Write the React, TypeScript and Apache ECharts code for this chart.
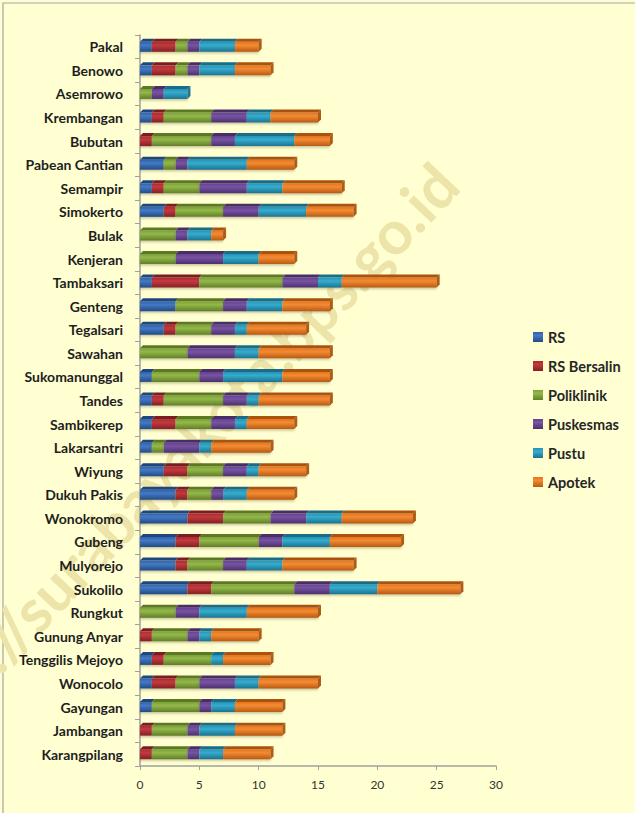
import React, { useEffect, useRef } from "react";
import * as echarts from "echarts";

const categories = [
  "Pakal", "Benowo", "Asemrowo", "Krembangan", "Bubutan", "Pabean Cantian",
  "Semampir", "Simokerto", "Bulak", "Kenjeran", "Tambaksari", "Genteng",
  "Tegalsari", "Sawahan", "Sukomanunggal", "Tandes", "Sambikerep", "Lakarsantri",
  "Wiyung", "Dukuh Pakis", "Wonokromo", "Gubeng", "Mulyorejo", "Sukolilo",
  "Rungkut", "Gunung Anyar", "Tenggilis Mejoyo", "Wonocolo", "Gayungan",
  "Jambangan", "Karangpilang",
];

const rs = [1, 1, 0, 1, 0, 2, 1, 2, 0, 0, 1, 3, 2, 0, 1, 1, 1, 1, 2, 3, 4, 3, 3, 4, 0, 0, 1, 1, 1, 0, 0];
const rsBersalin = [2, 2, 0, 1, 1, 0, 1, 1, 0, 0, 4, 0, 1, 0, 0, 1, 2, 0, 2, 1, 3, 2, 1, 2, 0, 1, 1, 2, 0, 1, 1];
const poliklinik = [1, 1, 1, 4, 5, 1, 3, 4, 3, 3, 7, 4, 3, 4, 4, 5, 3, 1, 3, 2, 4, 5, 3, 7, 3, 3, 4, 2, 4, 3, 3];
const puskesmas = [1, 1, 1, 3, 2, 1, 4, 3, 1, 4, 3, 2, 2, 4, 2, 2, 2, 3, 2, 1, 3, 2, 2, 3, 2, 1, 0, 3, 1, 1, 1];
const pustu = [3, 3, 2, 2, 5, 5, 3, 4, 2, 3, 2, 3, 1, 2, 5, 1, 1, 1, 1, 2, 3, 4, 3, 4, 4, 1, 1, 2, 2, 3, 2];
const apotek = [2, 3, 0, 4, 3, 4, 5, 4, 1, 3, 8, 4, 5, 6, 4, 6, 4, 5, 4, 4, 6, 6, 6, 7, 6, 4, 4, 5, 4, 4, 4];

const seriesNames = ["RS", "RS Bersalin", "Poliklinik", "Puskesmas", "Pustu", "Apotek"];
const seriesData = [rs, rsBersalin, poliklinik, puskesmas, pustu, apotek];
const xTicks = { min: 0, max: 30, interval: 5 };

// [light, base, dark, top-face]
const palette = [
  ["#4579C4", "#2E63A8", "#214C86", "#1F477E"],
  ["#C23A3F", "#AA2A2F", "#842024", "#7A1D21"],
  ["#93B84A", "#7DA135", "#617F27", "#5C7825"],
  ["#7853A4", "#63428D", "#4B316D", "#472E67"],
  ["#36ACCE", "#2593B6", "#1B7390", "#1A6C87"],
  ["#F38B33", "#E5751E", "#B95A12", "#A9530F"],
];

const FONT = "Lato, 'Open Sans', 'Liberation Sans', sans-serif";
const BAR_W = 10;
const DEPTH = 3;

export default function App() {
  const ref = useRef<HTMLDivElement>(null);

  useEffect(() => {
    if (!ref.current) return;
    const chart = echarts.init(ref.current, null, { renderer: "svg" });

    const barSeries = seriesNames.map((name, i) => ({
      name,
      type: "bar",
      stack: "total",
      barWidth: BAR_W,
      data: seriesData[i],
      z: 2,
      itemStyle: {
        color: new echarts.graphic.LinearGradient(0, 0, 0, 1, [
          { offset: 0, color: palette[i][1] },
          { offset: 0.35, color: palette[i][0] },
          { offset: 1, color: palette[i][2] },
        ]),
        shadowColor: "rgba(90,80,40,0.35)",
        shadowBlur: 2,
        shadowOffsetY: 1.5,
      },
      emphasis: { disabled: true },
    }));

    const depthData = categories.map((_, idx) => [idx, ...seriesData.map((s) => s[idx])]);

    const depthSeries = {
      type: "custom",
      silent: true,
      z: 3,
      encode: { y: 0, x: 1 },
      data: depthData,
      renderItem: (params: any, api: any) => {
        const idx = api.value(0);
        const children: any[] = [];
        let cum = 0;
        const center = api.coord([0, idx]);
        const yTop = center[1] - BAR_W / 2;
        const yBot = center[1] + BAR_W / 2;
        let lastColor = palette[5][3];
        for (let k = 0; k < 6; k++) {
          const v = api.value(k + 1);
          if (!v) continue;
          const x0 = api.coord([cum, idx])[0];
          const x1 = api.coord([cum + v, idx])[0];
          cum += v;
          lastColor = palette[k][3];
          children.push({
            type: "polygon",
            shape: {
              points: [
                [x0, yTop],
                [x1, yTop],
                [x1 + DEPTH, yTop - DEPTH],
                [x0 + DEPTH, yTop - DEPTH],
              ],
            },
            style: { fill: palette[k][3] },
          });
        }
        const xe = api.coord([cum, idx])[0];
        children.push({
          type: "polygon",
          shape: {
            points: [
              [xe, yTop],
              [xe + DEPTH, yTop - DEPTH],
              [xe + DEPTH, yBot - DEPTH],
              [xe, yBot],
            ],
          },
          style: { fill: lastColor, opacity: 0.95 },
        });
        return { type: "group", children };
      },
    };

    chart.setOption({
      animation: false,
      backgroundColor: "#FFFFD2",
      textStyle: { fontFamily: FONT },
      graphic: [
        {
          type: "rect",
          z: -10,
          shape: { x: 3, y: 3, width: 700, height: 900 },
          style: { fill: "none", stroke: "#A6A6A6", lineWidth: 1.2 },
          silent: true,
        },
        {
          type: "text",
          z: -5,
          x: 468,
          y: 194,
          rotation: (46.5 * Math.PI) / 180,
          silent: true,
          style: {
            text: "http://surabayakota.bps.go.id",
            fill: "#ECE4A8",
            font: `bold 61px ${FONT}`,
            textAlign: "right",
            textVerticalAlign: "bottom",
          },
        },
      ],
      legend: {
        orient: "vertical",
        left: 533,
        top: 328,
        padding: 0,
        itemWidth: 10,
        itemHeight: 10,
        itemGap: 11,
        icon: "rect",
        selectedMode: false,
        data: seriesNames,
        textStyle: {
          fontFamily: FONT,
          fontSize: 14.5,
          fontWeight: "bold",
          color: "#262626",
          lineHeight: 18,
          padding: [0, 0, 0, 0],
        },
      },
      grid: { left: 140, right: 139, top: 35, bottom: 47, containLabel: false },
      xAxis: {
        type: "value",
        min: xTicks.min,
        max: xTicks.max,
        interval: xTicks.interval,
        axisLine: { show: true, lineStyle: { color: "#A0A0A0", width: 1.5 } },
        axisTick: { show: true, length: 4, lineStyle: { color: "#A0A0A0" } },
        splitLine: { show: false },
        axisLabel: { color: "#333", fontSize: 12, margin: 12, fontFamily: FONT },
      },
      yAxis: {
        type: "category",
        inverse: true,
        data: categories,
        axisLine: { show: true, lineStyle: { color: "#A0A0A0", width: 1.5 } },
        axisTick: { show: true, length: 5, lineStyle: { color: "#A0A0A0" } },
        axisLabel: {
          color: "#1E1E1E",
          fontSize: 14,
          fontWeight: "bold",
          margin: 17,
          fontFamily: FONT,
        },
      },
      series: [...barSeries, depthSeries],
    });

    return () => chart.dispose();
  }, []);

  return (
    <div
      ref={ref}
      style={{ position: "absolute", left: 0, top: 0, width: 635, height: 813 }}
    />
  );
}
